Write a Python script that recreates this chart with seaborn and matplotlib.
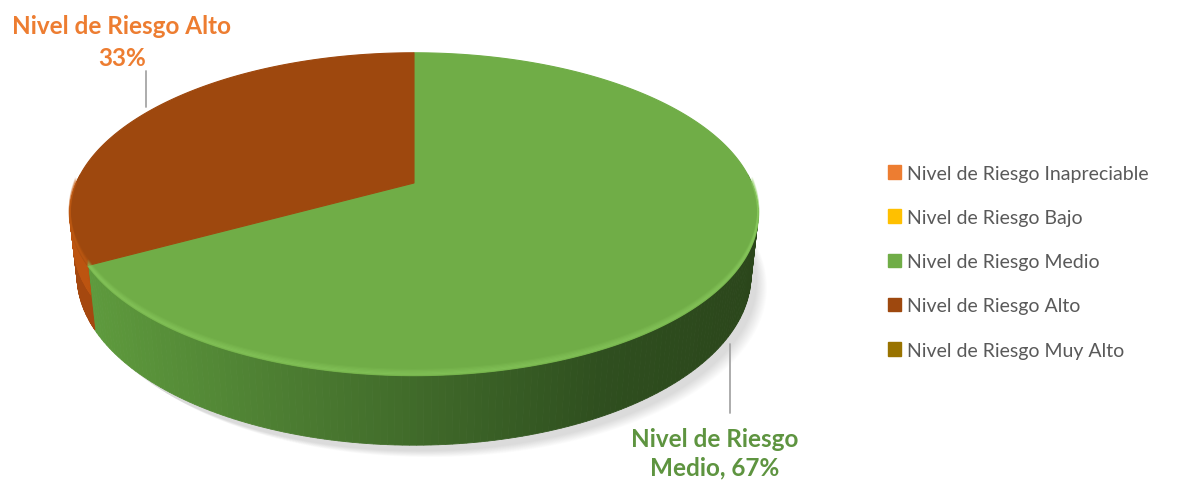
import numpy as np
import matplotlib
matplotlib.use("Agg")
import matplotlib.pyplot as plt
from matplotlib.patches import Polygon, Patch
import seaborn as sns

# Risk level shares (percent)
categories = ["Nivel de Riesgo Inapreciable", "Nivel de Riesgo Bajo",
              "Nivel de Riesgo Medio", "Nivel de Riesgo Alto",
              "Nivel de Riesgo Muy Alto"]
shares = [0, 0, 67, 33, 0]
legend_colors = ["#ED7D31", "#FFC000", "#70AD47", "#9E480E", "#997300"]
top_colors = ["#ED7D31", "#FFC000", "#70AD47", "#9E480E", "#997300"]

sns.set_theme(style="white")
plt.rcParams["font.family"] = ["Lato", "DejaVu Sans"]

W, H = 1183, 481
fig = plt.figure(figsize=(W / 100, H / 100), dpi=100)
ax = fig.add_axes([0, 0, 1, 1])
ax.set_xlim(0, W)
ax.set_ylim(H, 0)
ax.axis("off")

# perspective camera for a tilted cylinder of unit radius
phi = np.deg2rad(27.4)
c, s = np.cos(phi), np.sin(phi)
D = 4.59
K = 1550.0
CX, CY = 414.0, 184.0
DEPTH = 0.205


def project(theta, z):
    x, y = np.cos(theta), np.sin(theta)
    depth = D + y * c - z * s
    u = y * s + z * c
    return CX + K * x / depth, CY - K * u / depth


def mix(a, b, t):
    a = np.array(matplotlib.colors.to_rgb(a))
    b = np.array(matplotlib.colors.to_rgb(b))
    return tuple(a + (b - a) * t)


# slice angles: clockwise from 12 o'clock
total = sum(shares)
start = np.pi / 2
slices = []
for cat, val, col in zip(categories, shares, top_colors):
    if val <= 0:
        continue
    sweep = 2 * np.pi * val / total
    slices.append((cat, start, start - sweep, col))
    start -= sweep

# soft shadow under the pie
for i in range(12):
    t = i / 11
    th = np.linspace(0, 2 * np.pi, 200)
    px, py = project(th, -DEPTH)
    ax.fill(px + 6 + 10 * t, py + 6 + 6 * t, color="#000000", alpha=0.012,
            lw=0, zorder=1)

# cylinder side walls (front half only is visible)
side_style = {
    "Nivel de Riesgo Medio": ("#5E9A3D", "#2F4F1F", "#2B461B"),
    "Nivel de Riesgo Alto": ("#A5480F", "#9A430D", "#9A430D"),
}
rim_style = {
    "Nivel de Riesgo Medio": "#8FD063",
    "Nivel de Riesgo Alto": "#C65E14",
}
for cat, a0, a1, col in slices:
    th = np.linspace(a0, a1, 240)
    th = (th + np.pi) % (2 * np.pi) - np.pi
    left, mid, right = side_style.get(cat, (col, col, col))
    for t0, t1 in zip(th[:-1], th[1:]):
        if np.sin(t0) > 0.05 and np.sin(t1) > 0.05:
            continue
        xs0, ys0 = project(t0, 0)
        xs1, ys1 = project(t1, 0)
        xb0, yb0 = project(t0, -DEPTH)
        xb1, yb1 = project(t1, -DEPTH)
        xm = 0.5 * (xs0 + xs1)
        if xm < 600:
            fc = mix(left, mid, np.clip((xm - 90) / 510, 0, 1))
        else:
            fc = mix(mid, right, np.clip((xm - 600) / 160, 0, 1))
        ax.add_patch(Polygon([(xs0, ys0), (xs1, ys1), (xb1, yb1), (xb0, yb0)],
                             closed=True, fc=fc, ec=fc, lw=0.6, zorder=2))
        # lighter bevel band right under the rim
        if cat == "Nivel de Riesgo Alto":
            xq0, yq0 = project(t0, -DEPTH * 0.45)
            xq1, yq1 = project(t1, -DEPTH * 0.45)
            ax.add_patch(Polygon([(xs0, ys0), (xs1, ys1), (xq1, yq1), (xq0, yq0)],
                                 closed=True, fc="#BC5410", ec="#BC5410",
                                 lw=0.6, zorder=2.1))

# top faces
for cat, a0, a1, col in slices:
    th = np.linspace(a0, a1, 400)
    px, py = project(th, 0)
    pts = [(CX, CY)] + list(zip(px, py))
    ax.add_patch(Polygon(pts, closed=True, fc=col, ec=col, lw=0.8, zorder=3))

# highlight along the front rim of the top face
for cat, a0, a1, col in slices:
    th = np.linspace(a0, a1, 400)
    front = np.sin(th) < 0
    px, py = project(th, 0)
    hl = rim_style.get(cat, col)
    for k in range(5):
        ax.plot(px[front], py[front] - 1.0 - 1.2 * k, color=hl,
                lw=1.6, alpha=0.35 - 0.06 * k, zorder=3.5,
                solid_capstyle="butt")

# data labels with leader lines
ax.plot([146, 146], [72, 108], color="#A6A6A6", lw=1.3, zorder=4)
ax.text(122, 27, "Nivel de Riesgo Alto", color="#ED7D31", fontsize=17.5,
        fontweight="bold", ha="center", va="center", zorder=5)
ax.text(122, 59, "33%", color="#ED7D31", fontsize=17.5,
        fontweight="bold", ha="center", va="center", zorder=5)

ax.plot([730, 730], [345, 414], color="#A6A6A6", lw=1.3, zorder=4)
ax.text(715, 440, "Nivel de Riesgo", color="#5E9440", fontsize=17.5,
        fontweight="bold", ha="center", va="center", zorder=5)
ax.text(715, 468, "Medio, 67%", color="#5E9440", fontsize=17.5,
        fontweight="bold", ha="center", va="center", zorder=5)

# legend
handles = [Patch(facecolor=col, edgecolor=col) for col in legend_colors]
leg = ax.legend(handles, categories, loc="upper left",
                bbox_to_anchor=(880 / W, 1 - 158 / H), frameon=False,
                fontsize=14.0, labelcolor="#595959", handlelength=0.7,
                handleheight=0.7, handletextpad=0.3, labelspacing=1.4,
                borderaxespad=0)

fig.savefig("out.png", dpi=100)
